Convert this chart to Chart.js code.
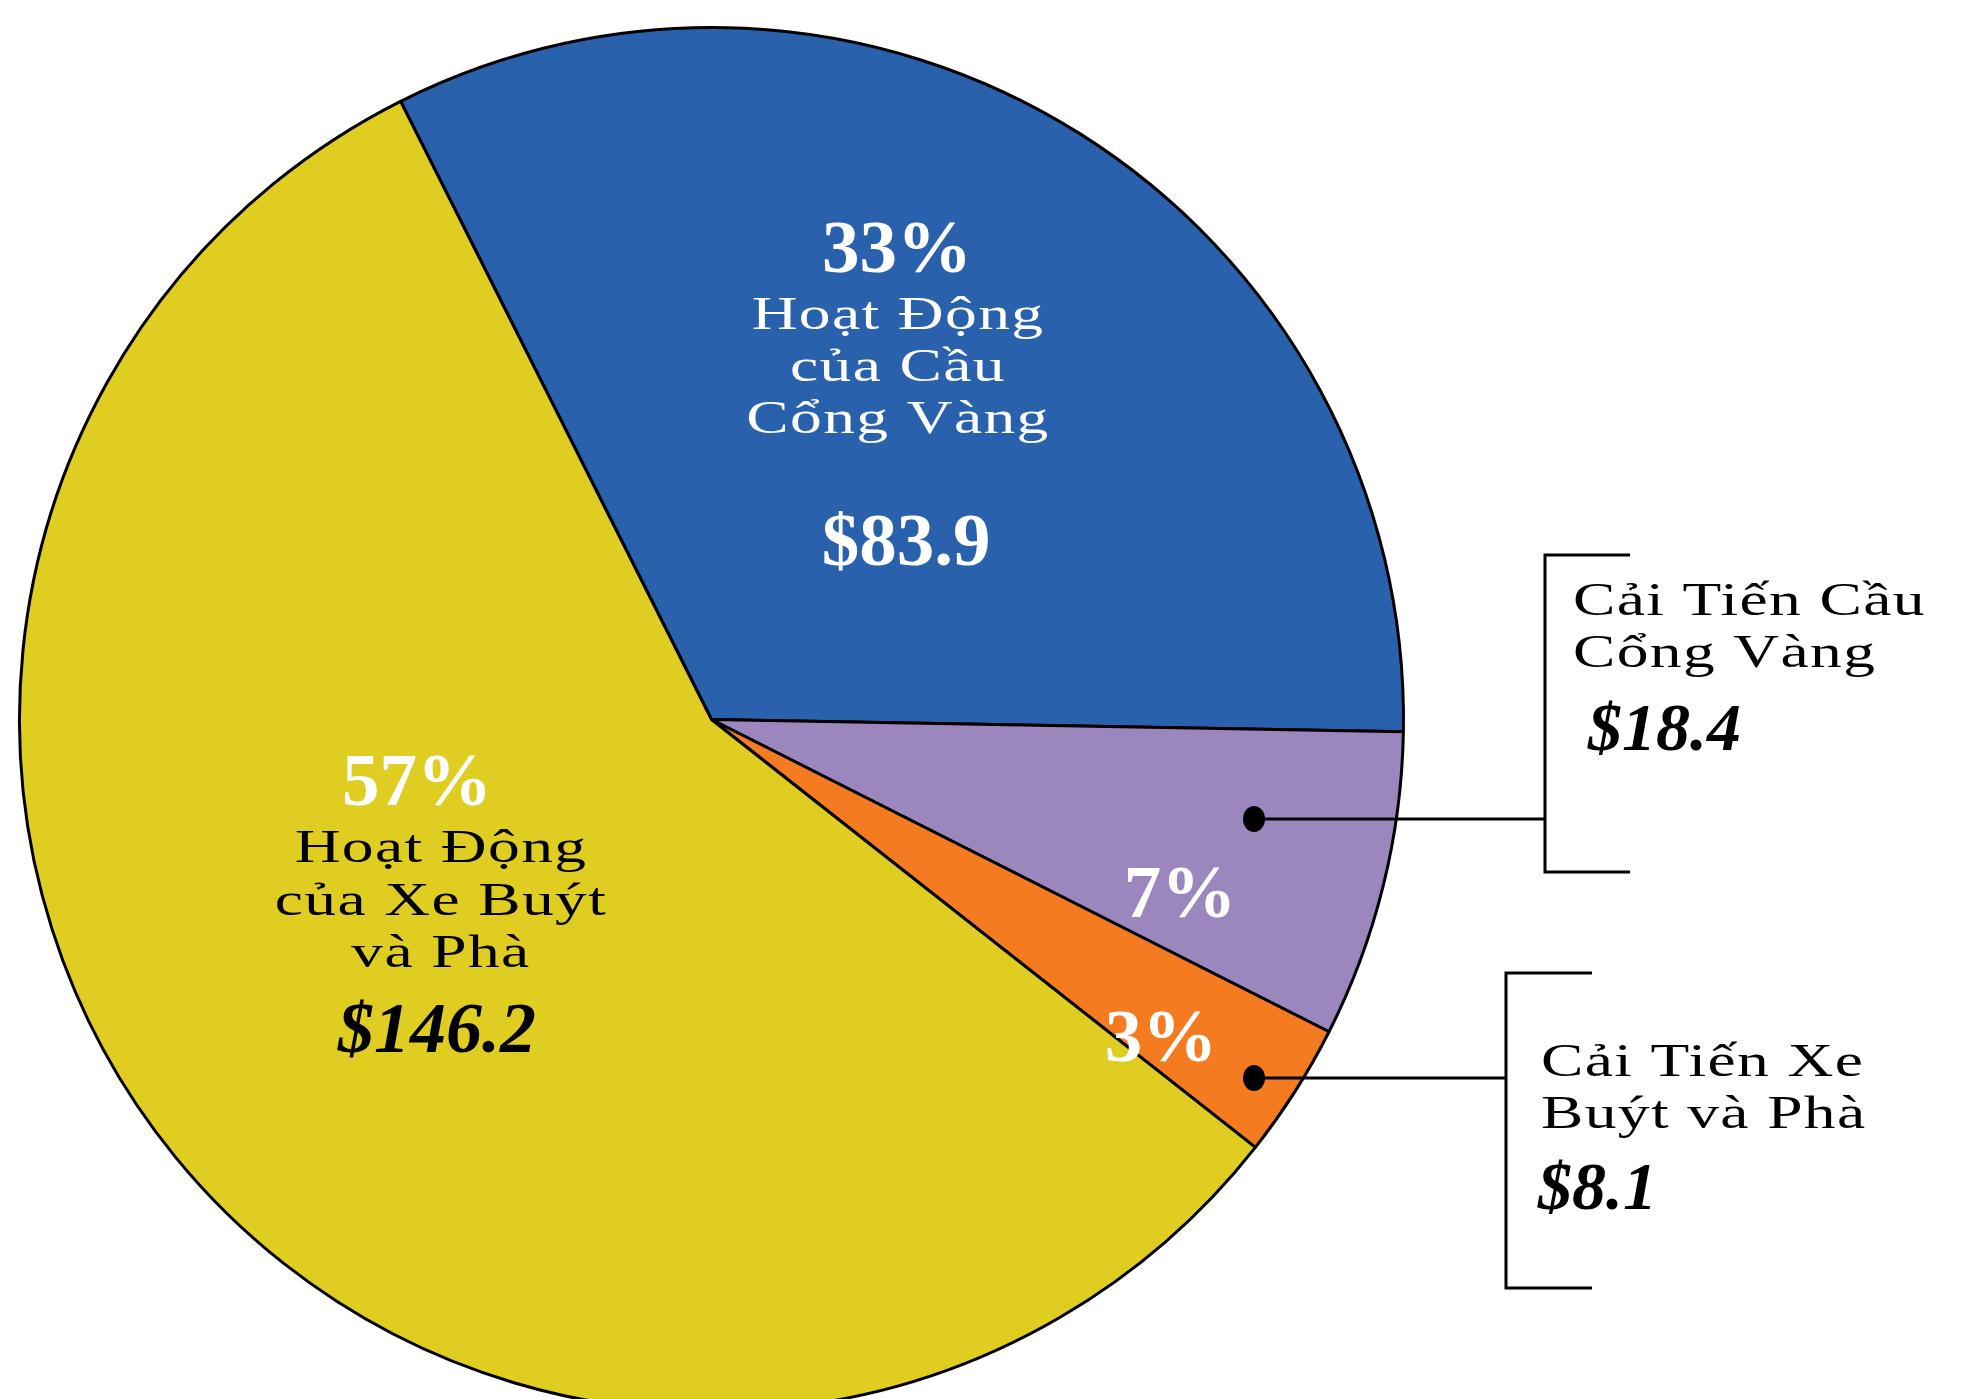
<!DOCTYPE html>
<html>
<head>
<meta charset="utf-8">
<script src="https://cdn.jsdelivr.net/npm/chart.js@4.4.1/dist/chart.umd.min.js"></script>
<style>
  html, body { margin: 0; padding: 0; background: #fff; overflow: hidden; }
  #wrap { position: absolute; left: 0; top: 0; width: 1961px; height: 1440px; }
</style>
</head>
<body>
<div id="wrap"><canvas id="pieChart"></canvas></div>
<script>
// chiếc bánh: thứ tự theo chiều kim đồng hồ bắt đầu từ phần xanh
const sliceNames = [
    ["Hoạt Động", "của Cầu", "Cổng Vàng"],
    ["Cải Tiến Cầu", "Cổng Vàng"],
    ["Cải Tiến Xe", "Buýt và Phà"],
    ["Hoạt Động", "của Xe Buýt", "và Phà"]
];
const sliceValues = [83.9, 18.4, 8.1, 146.2];
const sliceColors = ["#2961AD", "#9B86BE", "#F47B20", "#DFCD21"];

const total = sliceValues.reduce((a, b) => a + b, 0);
const pct = sliceValues.map(v => Math.round(v / total * 100) + "%");
const money = sliceValues.map(v => "$" + v.toFixed(1));

const SERIF = '"Liberation Serif", "Times New Roman", serif';

function txt(ctx, s, x, y, font, color, align, sx, ls) {
    ctx.save();
    ctx.font = font;
    ctx.fillStyle = color;
    ctx.textBaseline = 'alphabetic';
    if ('letterSpacing' in ctx) ctx.letterSpacing = (ls || 0) + 'px';
    ctx.translate(x, y);
    ctx.scale(sx || 1, 1);
    let w = ctx.measureText(s).width;
    let x0 = 0;
    if (align === 'center') x0 = -w / 2;
    ctx.fillText(s, x0, 0);
    ctx.restore();
}

function bracket(ctx, x, y1, y2, x2, dot) {
    ctx.save();
    ctx.strokeStyle = '#000';
    ctx.lineWidth = 3;
    ctx.beginPath();
    ctx.moveTo(x2, y1); ctx.lineTo(x, y1); ctx.lineTo(x, y2); ctx.lineTo(x2, y2);
    ctx.moveTo(dot[0], dot[1]); ctx.lineTo(x, dot[1]);
    ctx.stroke();
    ctx.fillStyle = '#000';
    ctx.beginPath();
    ctx.ellipse(dot[0], dot[1], 11, 13, 0, 0, Math.PI * 2);
    ctx.fill();
    ctx.restore();
}

const labelPlugin = {
    id: 'nhan',
    afterDatasetsDraw(chart) {
        const ctx = chart.ctx;
        const reg = '46px ' + SERIF;
        const big = 'bold 75px ' + SERIF;
        const bigIt = 'italic bold 72px ' + SERIF;
        const sideIt = 'italic bold 68px ' + SERIF;
        const SX = 1.38, LS = 1;

        // xanh
        txt(ctx, pct[0], 897, 272, big, '#fff', 'center');
        sliceNames[0].forEach((s, i) => txt(ctx, s, 898, 329 + i * 52, reg, '#fff', 'center', SX, LS));
        txt(ctx, money[0], 906, 565, big, '#fff', 'center');

        // vàng
        txt(ctx, pct[3], 417, 805, big, '#fff', 'center');
        sliceNames[3].forEach((s, i) => txt(ctx, s, 441, 862 + i * 52.5, reg, '#000', 'center', SX, LS));
        txt(ctx, money[3], 437, 1052, bigIt, '#000', 'center');

        // tím, cam
        txt(ctx, pct[1], 1180, 917, big, '#fff', 'center');
        txt(ctx, pct[2], 1161, 1061, big, '#fff', 'center');

        // chú thích bên phải
        bracket(ctx, 1545, 555, 872, 1630, [1254, 819]);
        sliceNames[1].forEach((s, i) => txt(ctx, s, 1573, 615 + i * 52, reg, '#000', 'left', SX, LS));
        txt(ctx, money[1], 1588, 750, sideIt, '#000', 'left');

        bracket(ctx, 1506, 973, 1288, 1592, [1254, 1078]);
        sliceNames[2].forEach((s, i) => txt(ctx, s, 1541, 1076 + i * 52, reg, '#000', 'left', SX, LS));
        txt(ctx, money[2], 1538, 1209, sideIt, '#000', 'left');
    }
};

const pieChart = new Chart('pieChart', {
    type: 'pie',
    data: {
        labels: sliceNames.map(n => n.join(' ')),
        datasets: [{
            data: sliceValues,
            backgroundColor: sliceColors,
            borderColor: '#000',
            borderWidth: 3,
            hoverBorderWidth: 3,
            hoverOffset: 0
        }]
    },
    options: {
        responsive: true,
        maintainAspectRatio: false,
        animation: false,
        rotation: -26.7,
        layout: {
            padding: { left: 18, top: 26, right: 556, bottom: 27 }
        },
        plugins: {
            legend: { display: false },
            tooltip: { enabled: false }
        }
    },
    plugins: [labelPlugin]
});
</script>
</body>
</html>
